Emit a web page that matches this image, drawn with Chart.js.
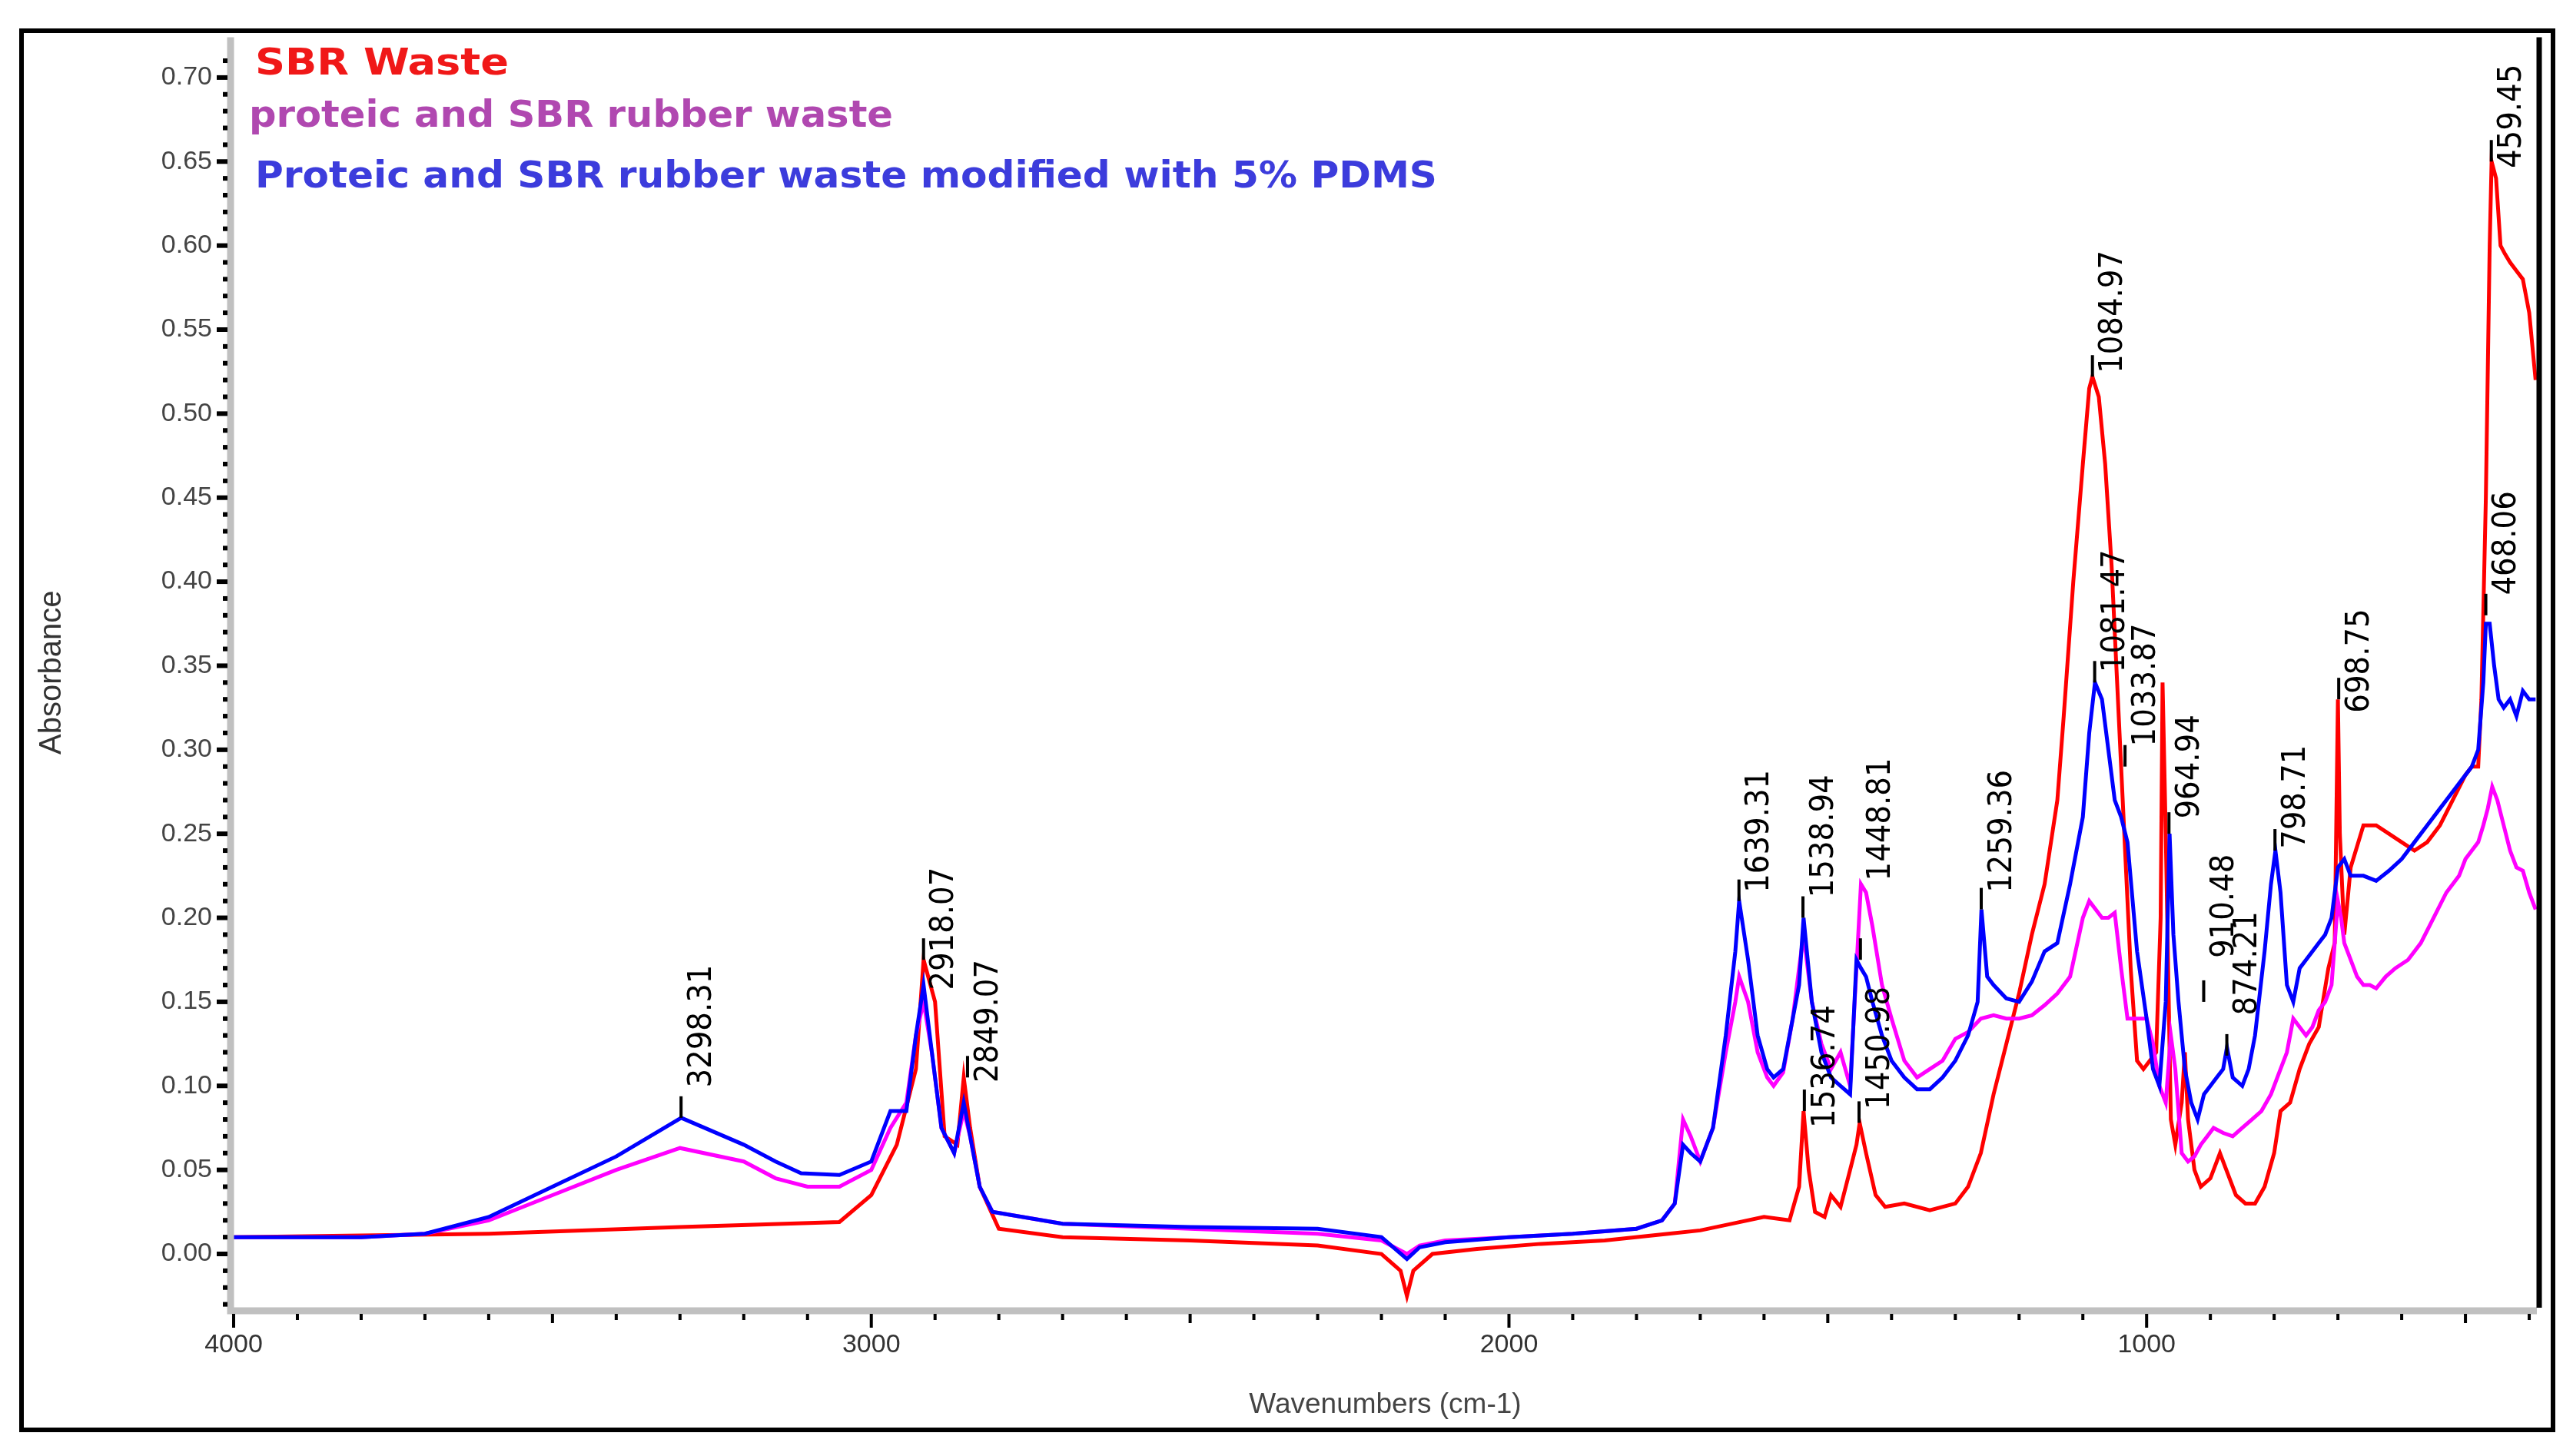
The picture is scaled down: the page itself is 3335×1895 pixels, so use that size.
<!DOCTYPE html>
<html><head><meta charset="utf-8">
<script src="https://cdn.jsdelivr.net/npm/chart.js@4"></script>
<style>html,body{margin:0;padding:0;background:#fff}canvas{display:block}</style>
</head><body>
<div style="width:3335px;height:1895px"><canvas id="c" width="3335" height="1895"></canvas></div>
<script>
const seriesNames = ["SBR Waste","proteic and SBR rubber waste","Proteic and SBR rubber waste modified with 5% PDMS"];
const redWn  = [4000,3800,3600,3300,3050,3000,2960,2930,2918,2900,2885,2865,2855,2845,2830,2800,2700,2500,2300,2200,2170,2160,2150,2120,2050,1950,1850,1750,1700,1650,1600,1560,1545,1538,1530,1520,1505,1495,1480,1465,1455,1450,1440,1425,1410,1380,1340,1300,1280,1260,1240,1220,1200,1180,1160,1140,1130,1115,1100,1090,1085,1075,1065,1055,1045,1035,1025,1015,1005,995,985,978,975,970,962,955,945,940,935,925,915,900,885,870,860,845,830,815,800,790,775,760,745,730,715,705,700,697,690,680,660,640,620,600,580,560,540,520,500,490,480,475,468,462,459,452,445,438,430,420,410,400,390];
const redAbs = [0.010,0.011,0.012,0.016,0.019,0.035,0.065,0.110,0.175,0.150,0.070,0.065,0.105,0.075,0.040,0.015,0.010,0.008,0.005,0.000,-0.010,-0.025,-0.010,0.000,0.003,0.006,0.008,0.012,0.014,0.018,0.022,0.020,0.040,0.085,0.050,0.025,0.022,0.035,0.028,0.050,0.065,0.078,0.060,0.035,0.028,0.030,0.026,0.030,0.040,0.060,0.095,0.125,0.155,0.190,0.220,0.270,0.320,0.400,0.470,0.515,0.522,0.510,0.470,0.410,0.330,0.250,0.170,0.115,0.110,0.115,0.120,0.200,0.340,0.250,0.080,0.065,0.090,0.120,0.080,0.050,0.040,0.045,0.060,0.045,0.035,0.030,0.030,0.040,0.060,0.085,0.090,0.110,0.125,0.135,0.170,0.185,0.330,0.250,0.190,0.230,0.255,0.255,0.250,0.245,0.240,0.245,0.255,0.270,0.285,0.290,0.290,0.330,0.450,0.600,0.650,0.640,0.600,0.595,0.590,0.585,0.580,0.560,0.520];
const magWn  = [4000,3800,3700,3600,3500,3400,3300,3200,3150,3100,3050,3000,2970,2945,2930,2918,2905,2890,2870,2855,2845,2830,2810,2700,2500,2300,2200,2160,2140,2100,2000,1900,1800,1760,1740,1727,1715,1700,1680,1660,1645,1639,1625,1610,1595,1585,1570,1555,1545,1538,1525,1510,1495,1480,1465,1455,1448,1440,1430,1415,1400,1380,1360,1340,1320,1300,1280,1260,1240,1220,1200,1180,1160,1140,1120,1100,1090,1080,1070,1060,1050,1040,1030,1015,1000,990,980,970,962,955,945,935,925,915,905,895,880,865,850,835,820,805,790,780,770,760,750,740,730,720,710,700,695,690,680,670,660,650,640,625,610,590,570,550,530,510,500,490,480,472,465,458,450,440,430,420,410,400,390];
const magAbs = [0.010,0.010,0.012,0.020,0.035,0.050,0.063,0.055,0.045,0.040,0.040,0.050,0.075,0.090,0.130,0.150,0.120,0.075,0.060,0.085,0.070,0.040,0.025,0.018,0.015,0.012,0.008,0.000,0.005,0.008,0.010,0.012,0.015,0.020,0.030,0.080,0.070,0.055,0.075,0.120,0.150,0.165,0.150,0.120,0.105,0.100,0.108,0.140,0.170,0.190,0.150,0.125,0.110,0.120,0.100,0.170,0.220,0.215,0.195,0.160,0.140,0.115,0.105,0.110,0.115,0.128,0.132,0.140,0.142,0.140,0.140,0.142,0.148,0.155,0.165,0.200,0.210,0.205,0.200,0.200,0.203,0.170,0.140,0.140,0.140,0.125,0.100,0.090,0.130,0.110,0.060,0.055,0.058,0.065,0.070,0.075,0.072,0.070,0.075,0.080,0.085,0.095,0.110,0.120,0.140,0.135,0.130,0.135,0.145,0.150,0.160,0.210,0.200,0.185,0.175,0.165,0.160,0.160,0.158,0.165,0.170,0.175,0.185,0.200,0.215,0.225,0.235,0.240,0.245,0.255,0.265,0.278,0.270,0.255,0.240,0.230,0.228,0.215,0.205,0.210];
const bluWn  = [4000,3800,3700,3600,3500,3400,3298,3200,3150,3110,3050,3000,2970,2945,2930,2918,2905,2890,2870,2855,2845,2830,2810,2700,2500,2300,2200,2160,2140,2100,2000,1900,1800,1760,1740,1727,1715,1700,1680,1660,1645,1639,1625,1610,1595,1585,1570,1555,1545,1538,1525,1510,1495,1480,1465,1455,1448,1440,1430,1415,1400,1380,1360,1340,1320,1300,1280,1265,1259,1250,1240,1220,1200,1180,1160,1140,1120,1100,1090,1081,1070,1060,1050,1040,1030,1015,1000,990,980,970,964,958,950,940,930,920,910,900,890,880,874,865,850,840,830,815,805,798,790,780,770,760,750,740,730,720,710,700,690,680,660,640,620,600,580,560,540,520,500,490,480,472,468,462,455,448,440,430,420,410,400,390];
const bluAbs = [0.010,0.010,0.012,0.022,0.040,0.058,0.081,0.065,0.055,0.048,0.047,0.055,0.085,0.085,0.130,0.160,0.120,0.075,0.060,0.090,0.070,0.040,0.025,0.018,0.016,0.015,0.010,-0.003,0.004,0.007,0.010,0.012,0.015,0.020,0.030,0.065,0.060,0.055,0.075,0.130,0.180,0.210,0.175,0.130,0.110,0.105,0.110,0.140,0.160,0.200,0.150,0.120,0.105,0.100,0.095,0.175,0.170,0.165,0.150,0.130,0.115,0.105,0.098,0.098,0.105,0.115,0.130,0.150,0.205,0.165,0.160,0.152,0.150,0.162,0.180,0.185,0.220,0.260,0.310,0.340,0.330,0.300,0.270,0.260,0.245,0.180,0.140,0.110,0.100,0.150,0.250,0.190,0.150,0.110,0.090,0.080,0.095,0.100,0.105,0.110,0.123,0.105,0.100,0.110,0.130,0.180,0.220,0.240,0.215,0.160,0.150,0.170,0.175,0.180,0.185,0.190,0.200,0.230,0.235,0.225,0.225,0.222,0.228,0.235,0.245,0.255,0.265,0.275,0.285,0.290,0.300,0.340,0.375,0.375,0.350,0.330,0.325,0.330,0.320,0.335,0.330,0.330];
const xTicks = [4000,3000,2000,1000];
const yTicks = [0,0.05,0.10,0.15,0.20,0.25,0.30,0.35,0.40,0.45,0.50,0.55,0.60,0.65,0.70];
const peakLabels = ["3298.31","2918.07","2849.07","1639.31","1538.94","1536.74","1448.81","1450.98","1259.36","1084.97","1081.47","1033.87","964.94","910.48","874.21","798.71","698.75","468.06","459.45"];
const peakWn     = [3298.31,2918.07,2849.07,1639.31,1538.94,1536.74,1448.81,1450.98,1259.36,1084.97,1081.47,1033.87,964.94,910.48,874.21,798.71,698.75,468.06,459.45];
const peakAbs    = [0.081,0.175,0.105,0.210,0.200,0.085,0.175,0.078,0.205,0.522,0.340,0.290,0.250,0.150,0.118,0.240,0.330,0.380,0.650];
const labelStart = [0.099,0.157,0.102,0.215,0.212,0.075,0.222,0.086,0.215,0.524,0.346,0.302,0.259,0.176,0.142,0.241,0.322,0.392,0.646];

const pts=(w,a)=>w.map((x,i)=>({x,y:a[i]}));
const colors=['#ff0000','#ff00ff','#0000ff'];
const legendColors=['#f01818','#b048b0','#3c3cdc'];

const deco={id:'deco',
 beforeDraw(ch){const c=ch.ctx;c.save();c.fillStyle='#fff';c.fillRect(0,0,ch.width,ch.height);c.restore();},
 afterDraw(ch){const c=ch.ctx,a=ch.chartArea,xs=ch.scales.x,ys=ch.scales.y;c.save();
  c.strokeStyle='#000';c.lineWidth=6;c.strokeRect(28,40,3294,1821);
  c.strokeStyle='#c0c0c0';c.lineWidth=9;
  c.beginPath();c.moveTo(a.left-4,a.top);c.lineTo(a.left-4,a.bottom+4);c.lineTo(a.right,a.bottom+4);c.stroke();
  c.strokeStyle='#000';c.lineWidth=7;c.beginPath();c.moveTo(a.right+3,a.top);c.lineTo(a.right+3,a.bottom);c.stroke();
  c.fillStyle='#000';
  for(let v=0;v<=0.72;v+=0.01){const y=ys.getPixelForValue(v);const major=Math.round(v*100)%5===0;
    c.fillRect(a.left-(major?22:14),y-3,major?14:6,6);}
  for(let v=-0.03;v<0;v+=0.01){const y=ys.getPixelForValue(v);c.fillRect(a.left-14,y-3,6,6);}
  for(let w=400;w<=4000;w+=100){const x=xs.getPixelForValue(w);const major=w%1000===0;
    c.fillRect(x-2,a.bottom+8,4,major?18:(w%500===0?12:8));}
  const ly=[85,153,232],lw=[330,838,1538];
  seriesNames.forEach((t,i)=>{c.font='bold 48px "DejaVu Sans Condensed","DejaVu Sans"';
    const m=c.measureText(t).width;c.save();c.translate(i==1?324:332,ly[i]);c.scale(lw[i]/m,1);
    c.fillStyle=legendColors[i];c.textBaseline='middle';c.fillText(t,0,0);c.restore();});
  c.font='43px "DejaVu Sans Condensed","DejaVu Sans"';c.fillStyle='#000';
  peakLabels.forEach((t,i)=>{const x=xs.getPixelForValue(peakWn[i]);const yp=ys.getPixelForValue(peakAbs[i]);
    c.fillRect(x-2,yp-28,4,28);
    const ys0=ys.getPixelForValue(labelStart[i]);
    c.save();c.translate(x+6,ys0);c.rotate(-Math.PI/2);c.textBaseline='top';c.textAlign='left';
    c.fillText(t,0,0);c.restore();});
  c.restore();}};

new Chart(document.getElementById('c'),{type:'line',
 data:{datasets:[
  {label:seriesNames[2],data:pts(bluWn,bluAbs),borderColor:colors[2]},
  {label:seriesNames[1],data:pts(magWn,magAbs),borderColor:colors[1]},
  {label:seriesNames[0],data:pts(redWn,redAbs),borderColor:colors[0]}]
  .map(d=>Object.assign(d,{borderWidth:5,pointRadius:0,tension:0,fill:false}))},
 options:{responsive:false,animation:false,devicePixelRatio:1,
  layout:{padding:{left:40,top:44,right:34,bottom:40}},
  plugins:{legend:{display:false},tooltip:{enabled:false}},
  scales:{
   x:{type:'linear',reverse:true,min:388,max:4000,
    afterBuildTicks:s=>{s.ticks=xTicks.map(v=>({value:v}));},
    afterFit:s=>{s.height=153;},
    grid:{display:false,drawTicks:false},border:{display:false},
    ticks:{color:'#333',font:{size:34,family:'"Liberation Sans",Arial'},padding:28,maxRotation:0,callback:v=>String(v)},
    title:{display:true,text:'Wavenumbers (cm-1)',color:'#444',font:{size:37,family:'"Liberation Sans",Arial'},padding:{top:8}}},
   y:{min:-0.032,max:0.724,
    afterBuildTicks:s=>{s.ticks=yTicks.map(v=>({value:v}));},
    afterFit:s=>{s.width=264;},
    grid:{display:false,drawTicks:false},border:{display:false},
    ticks:{color:'#444',font:{size:34,family:'"Liberation Sans",Arial'},padding:28,callback:v=>v.toFixed(2)},
    title:{display:true,text:'Absorbance',color:'#333',font:{size:40,family:'"Liberation Sans",Arial'},padding:{bottom:40}}}}},
 plugins:[deco]});
</script></body></html>
